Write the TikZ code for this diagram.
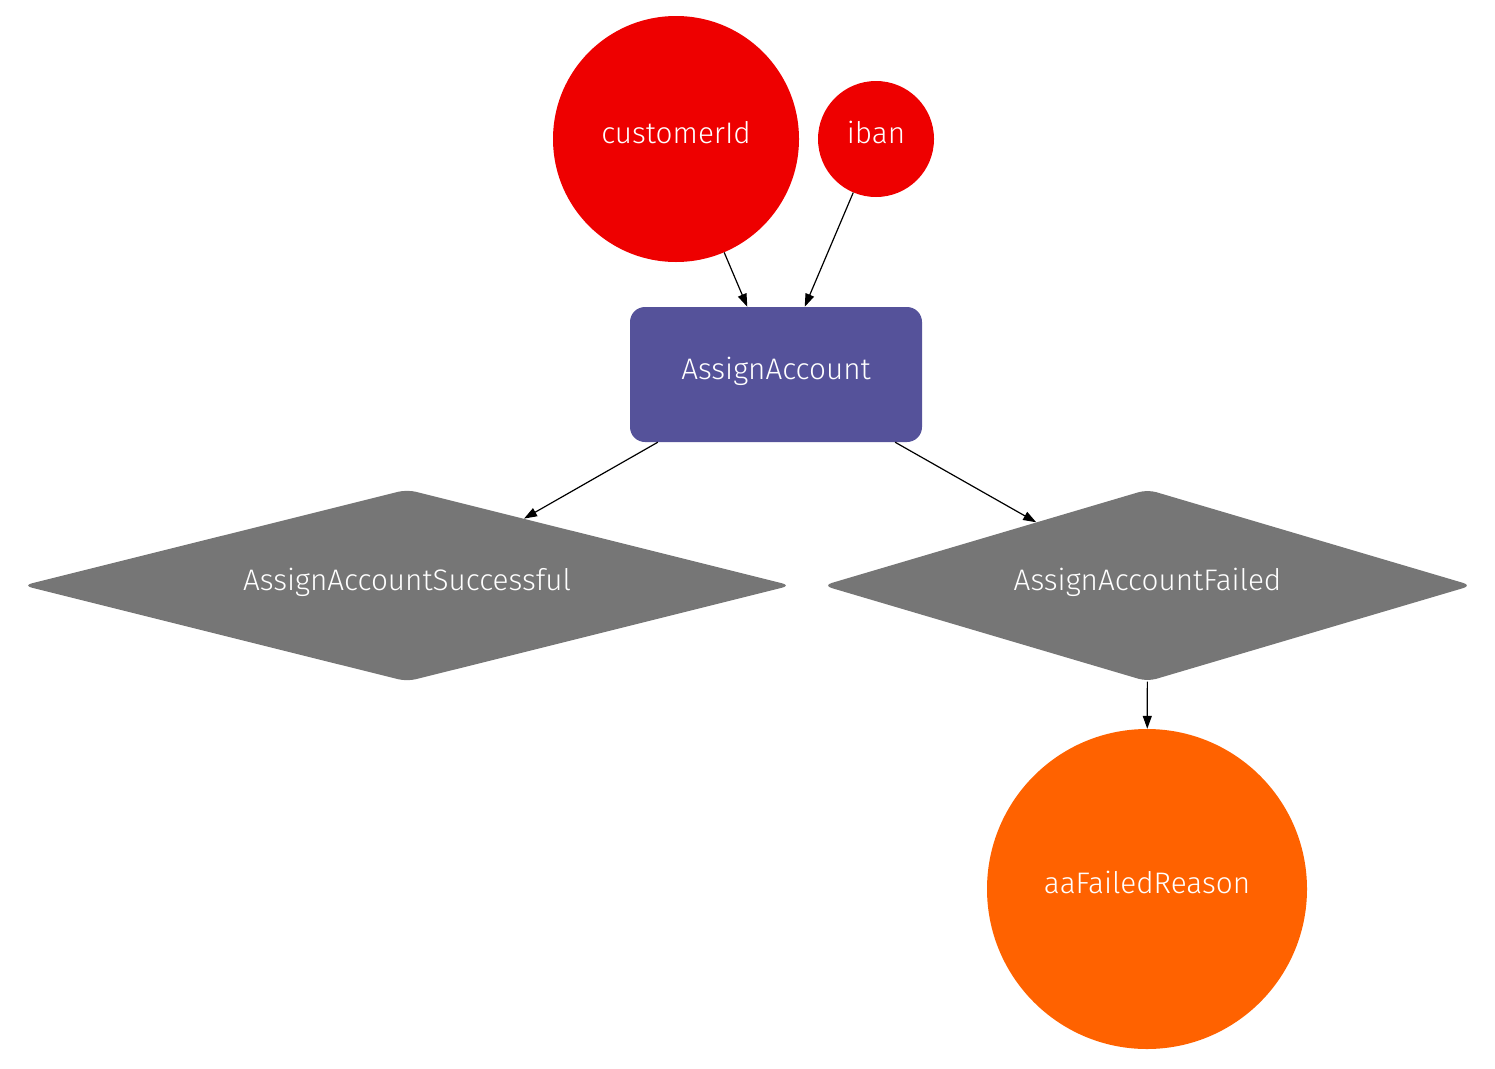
\documentclass[tikz,border=0pt]{standalone}
\usepackage{fontspec}
\setmainfont{Fira Sans}[UprightFont=* Light]
\usetikzlibrary{shapes.geometric,arrows.meta}
\definecolor{ingred}{HTML}{EE0000}
\definecolor{ingpurple}{HTML}{55529A}
\definecolor{inggray}{HTML}{767676}
\definecolor{ingorange}{HTML}{FF6200}
\tikzset{
  lbl/.style={text=white,font=\fontsize{29.7}{32}\selectfont,text height=22pt,text depth=13pt},
  datanode/.style={circle,lbl,inner sep=0pt},
  cmdnode/.style={rectangle,rounded corners=15pt,fill=ingpurple,lbl,inner sep=0pt,minimum width=292pt,minimum height=135pt},
  evtnode/.style={diamond,fill=inggray,lbl,inner sep=0pt,rounded corners=9pt,minimum height=192pt},
  conn/.style={line width=1.2pt,-{Triangle[length=13pt,width=9pt]}}
}
\begin{document}
\begin{tikzpicture}[x=1pt,y=-1pt]
\useasboundingbox (0,0) rectangle (1495,1068);
\node[datanode,fill=ingred,minimum size=246pt] (cust) at (676,139) {customerId};
\node[datanode,fill=ingred,minimum size=116pt] (iban) at (876,139) {iban};
\node[cmdnode] (aa) at (776,374.5) {AssignAccount};
\node[evtnode,minimum width=768pt,aspect=4.0] (ok) at (407,585.5) {AssignAccountSuccessful};
\node[evtnode,minimum width=649pt,aspect=3.38] (fail) at (1147.5,585.5) {AssignAccountFailed};
\node[datanode,fill=ingorange,minimum size=320pt] (reason) at (1147,889) {aaFailedReason};
\draw[conn] (cust) -- (aa);
\draw[conn] (iban) -- (aa);
\draw[conn] (aa) -- (ok);
\draw[conn] (aa) -- (fail);
\draw[conn] (fail) -- (reason);
\end{tikzpicture}
\end{document}
